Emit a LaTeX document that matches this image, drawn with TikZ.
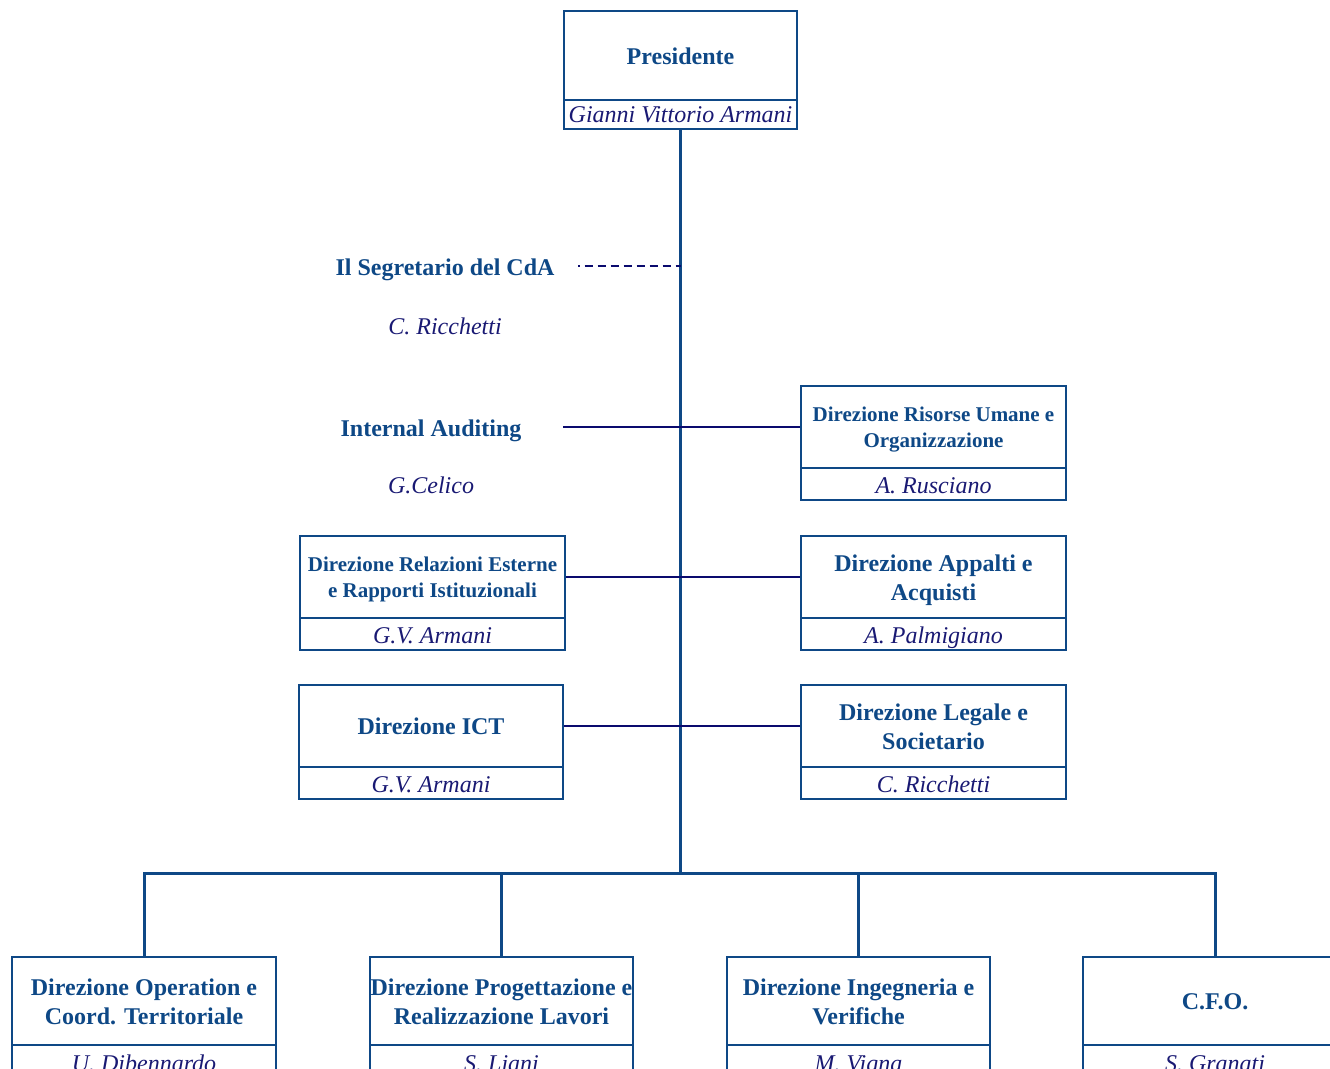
\documentclass[tikz,border=0pt]{standalone}
\usepackage{fontspec}
\setmainfont{Liberation Serif}
\definecolor{boxblue}{RGB}{14,72,134}
\definecolor{namenavy}{RGB}{25,25,115}
\definecolor{linenavy}{RGB}{10,10,110}
\newcommand\Tst{\rule[-5.3pt]{0pt}{28.3pt}}
\newcommand\Sst{\rule[-6pt]{0pt}{26pt}}
\newcommand\Nst{\rule[-5.6pt]{0pt}{30.6pt}}
\newcommand\Pst{\rule[-5pt]{0pt}{26pt}}
\tikzset{
  titlebox/.style={draw=boxblue, line width=2.6pt, text=boxblue, font=\bfseries\fontsize{24}{28.3}\selectfont, align=center, inner sep=0pt},
  smalltitle/.style={titlebox, font=\bfseries\fontsize{21}{26}\selectfont},
  namebox/.style={draw=boxblue, line width=2.6pt, text=namenavy, font=\itshape\fontsize{24}{29}\selectfont, inner sep=0pt},
  freetitle/.style={text=boxblue, font=\bfseries\fontsize{24}{29}\selectfont, inner sep=0pt, anchor=base},
  freename/.style={text=namenavy, font=\itshape\fontsize{24}{29}\selectfont, inner sep=0pt, anchor=base},
  trunk/.style={draw=boxblue, line width=3pt},
  sideline/.style={draw=linenavy, line width=2pt},
}
\begin{document}
\begin{tikzpicture}[x=1pt,y=-1pt]
\useasboundingbox (0,0) rectangle (1330,1068);
% Presidente
\node[titlebox, minimum width=233pt, minimum height=89pt] (pres) at (680.5,55.5) {\Tst Presidente};
\node[namebox, minimum width=233pt, minimum height=29pt] (presN) at (680.5,114.5) {\Pst Gianni Vittorio Armani};
% free labels
\node[freetitle] (seg) at (445,275.3) {Il Segretario del CdA};
\node[freename] (segN) at (445,334) {C. Ricchetti};
\node[freetitle] (ia) at (431,436) {Internal Auditing};
\node[freename] (iaN) at (431,493.5) {G.Celico};
% Risorse Umane
\node[smalltitle, minimum width=265pt, minimum height=82pt] (ris) at (933.5,427) {\Sst Direzione Risorse Umane e\\\Sst Organizzazione};
\node[namebox, minimum width=265pt, minimum height=32pt] (risN) at (933.5,484) {\Nst A. Rusciano};
% Relazioni Esterne
\node[smalltitle, minimum width=265pt, minimum height=82pt] (rel) at (432.5,577) {\Sst Direzione Relazioni Esterne\\\Sst e Rapporti Istituzionali};
\node[namebox, minimum width=265pt, minimum height=32pt] (relN) at (432.5,634) {\Nst G.V. Armani};
% Appalti
\node[titlebox, minimum width=265pt, minimum height=82pt] (app) at (933.5,577) {\Tst Direzione Appalti e\\\Tst Acquisti};
\node[namebox, minimum width=265pt, minimum height=32pt] (appN) at (933.5,634) {\Nst A. Palmigiano};
% ICT
\node[titlebox, minimum width=264pt, minimum height=82pt] (ict) at (431,726) {\Tst Direzione ICT};
\node[namebox, minimum width=264pt, minimum height=32pt] (ictN) at (431,783) {\Nst G.V. Armani};
% Legale
\node[titlebox, minimum width=265pt, minimum height=82pt] (leg) at (933.5,726) {\Tst Direzione Legale e\\\Tst Societario};
\node[namebox, minimum width=265pt, minimum height=32pt] (legN) at (933.5,783) {\Nst C. Ricchetti};
% Bottom row
\node[titlebox, minimum width=264pt, minimum height=88pt] (op) at (144,1001) {\Tst Direzione Operation e\\\Tst Coord. Territoriale};
\node[namebox, minimum width=264pt, minimum height=34pt] (opN) at (144,1062) {\Nst U. Dibennardo};
\node[titlebox, minimum width=263pt, minimum height=88pt] (prog) at (501.5,1001) {\Tst Direzione Progettazione e\\\Tst Realizzazione Lavori};
\node[namebox, minimum width=263pt, minimum height=34pt] (progN) at (501.5,1062) {\Nst S. Liani};
\node[titlebox, minimum width=263pt, minimum height=88pt] (ing) at (858.5,1001) {\Tst Direzione Ingegneria e\\\Tst Verifiche};
\node[namebox, minimum width=263pt, minimum height=34pt] (ingN) at (858.5,1062) {\Nst M. Vigna};
\node[titlebox, minimum width=264pt, minimum height=88pt] (cfo) at (1215,1001) {\Tst C.F.O.};
\node[namebox, minimum width=264pt, minimum height=34pt] (cfoN) at (1215,1062) {\Nst S. Granati};
% connectors
\coordinate (bus) at (680.5,873);
\path[trunk] (presN.south) -- (bus);
\path[trunk] (op.north) |- (bus) -| (cfo.north);
\path[trunk] (prog.north) -- (prog.north |- bus);
\path[trunk] (ing.north) -- (ing.north |- bus);
\coordinate (segS) at (578,266);
\path[draw=linenavy, line width=2pt, dash pattern=on 1.5pt off 5pt on 8pt off 5pt on 8pt off 5pt on 8pt off 5pt on 8pt off 5pt on 8pt off 5pt on 8pt off 5pt on 8pt off 5pt on 8pt off 5pt] (segS) -- (segS -| presN.south);
\coordinate (iaS) at (563,427);
\path[sideline] (iaS) -- (ris.west);
\path[sideline] (rel.east) -- (app.west);
\path[sideline] (ict.east) -- (leg.west);
\end{tikzpicture}
\end{document}
